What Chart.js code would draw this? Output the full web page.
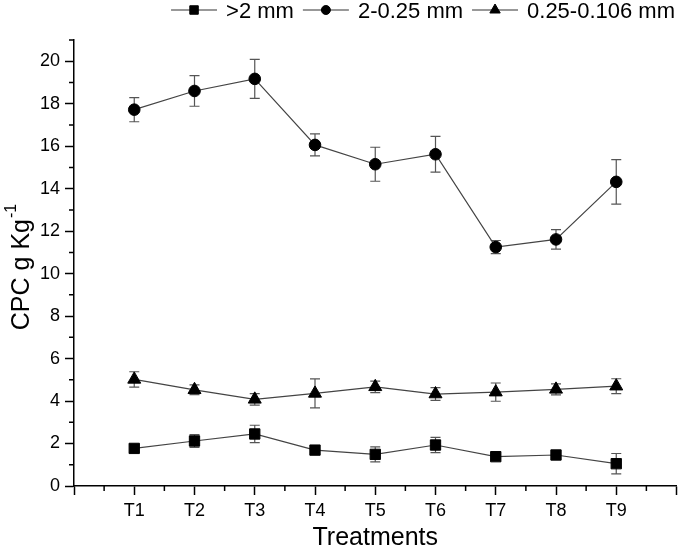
<!DOCTYPE html>
<html><head><meta charset="utf-8">
<script src="https://cdn.jsdelivr.net/npm/chart.js@4.4.1/dist/chart.umd.min.js"></script>
<style>html,body{margin:0;padding:0;background:#fff}canvas{display:block}</style>
</head><body>
<canvas id="c" width="685" height="553"></canvas>
<script>
const categories = ['T1','T2','T3','T4','T5','T6','T7','T8','T9'];
const seriesNames = ['>2 mm','2-0.25 mm','0.25-0.106 mm'];
const coarseMean = [1.77,2.12,2.45,1.69,1.49,1.93,1.38,1.46,1.05];
const coarseErr  = [0.18,0.30,0.41,0.12,0.35,0.36,0.10,0.10,0.48];
const mediumMean = [17.72,18.60,19.17,16.06,15.15,15.62,11.25,11.61,14.32];
const mediumErr  = [0.57,0.72,0.92,0.52,0.80,0.84,0.31,0.46,1.05];
const fineMean   = [5.02,4.53,4.08,4.36,4.67,4.33,4.42,4.55,4.70];
const fineErr    = [0.36,0.23,0.27,0.68,0.27,0.30,0.43,0.26,0.35];
const yTickLabels = [0,2,4,6,8,10,12,14,16,18,20];
const yTitle = 'CPC g Kg';
const yTitleSup = '-1';
const xTitle = 'Treatments';

const FONT = "'Liberation Sans', Arial, sans-serif";
const toPts = arr => arr.map((v,i)=>({x:i+1,y:v}));

function mkDs(label, mean, err, style, radius, legendRadius){
  return {label, data: toPts(mean), errors: err, legendRadius, borderColor:'#444', borderWidth:1.2,
    pointStyle: style, pointRadius: radius, pointHoverRadius: radius,
    pointBackgroundColor:'#000', pointBorderColor:'#000', pointBorderWidth:1, tension:0, fill:false};
}

const errorBars = {
  id:'errorBars',
  beforeDatasetsDraw(chart){
    const {ctx, scales:{x,y}} = chart;
    ctx.save(); ctx.strokeStyle='#555'; ctx.lineWidth=1.2;
    chart.data.datasets.forEach(ds=>{
      ds.data.forEach((p,i)=>{
        const e = ds.errors[i];
        const px = x.getPixelForValue(p.x);
        const t = y.getPixelForValue(p.y+e), b = y.getPixelForValue(p.y-e);
        ctx.beginPath();
        ctx.moveTo(px,t); ctx.lineTo(px,b);
        ctx.moveTo(px-5,t); ctx.lineTo(px+5,t);
        ctx.moveTo(px-5,b); ctx.lineTo(px+5,b);
        ctx.stroke();
      });
    });
    ctx.restore();
  }
};

const extras = {
  id:'extras',
  afterDraw(chart){
    const {ctx, scales:{x,y}, chartArea:ca} = chart;
    ctx.save();
    ctx.strokeStyle='#000'; ctx.lineWidth=1.5;
    // minor ticks
    ctx.beginPath();
    for(let v=0.5; v<10; v+=1){ const px=x.getPixelForValue(v); ctx.moveTo(px,ca.bottom); ctx.lineTo(px,ca.bottom+5); }
    for(let v=1; v<=21; v+=2){ const py=y.getPixelForValue(v); ctx.moveTo(ca.left,py); ctx.lineTo(ca.left-5,py); }
    ctx.stroke();
    // y title
    ctx.fillStyle='#000';
    ctx.translate(22, (ca.top+ca.bottom)/2 + 4);
    ctx.rotate(-Math.PI/2);
    ctx.font = '25px ' + FONT;
    const w1 = ctx.measureText(yTitle).width;
    ctx.font = '16px ' + FONT;
    const w2 = ctx.measureText(yTitleSup).width;
    const start = -(w1+w2+1)/2;
    ctx.textBaseline='middle'; ctx.textAlign='left';
    ctx.font = '25px ' + FONT;
    ctx.fillText(yTitle, start, 0);
    ctx.font = '16px ' + FONT;
    ctx.fillText(yTitleSup, start+w1+1, -10);
    ctx.restore();

    // legend
    ctx.save();
    ctx.font = '22px ' + FONT;
    ctx.textBaseline='middle'; ctx.textAlign='left';
    const lineLen=46, gap1=9, gap2=9, ly=10;
    const items = chart.data.datasets.map(ds=>({ds, w: ctx.measureText(ds.label).width}));
    let total = items.reduce((s,it)=>s+lineLen+gap1+it.w,0) + gap2*(items.length-1);
    let cx = 675 - total;
    items.forEach(it=>{
      ctx.strokeStyle='#333'; ctx.lineWidth=1.2;
      ctx.beginPath(); ctx.moveTo(cx,ly); ctx.lineTo(cx+lineLen,ly); ctx.stroke();
      ctx.fillStyle='#000'; ctx.strokeStyle='#000'; ctx.lineWidth=1;
      Chart.helpers.drawPoint(ctx, {pointStyle: it.ds.pointStyle, radius: it.ds.legendRadius, borderWidth:1}, cx+lineLen/2, ly);
      ctx.fillStyle='#000';
      ctx.fillText(it.ds.label, cx+lineLen+gap1, ly+2);
      cx += lineLen+gap1+it.w+gap2;
    });
    ctx.restore();
  }
};

new Chart(document.getElementById('c'), {
  type:'line',
  data:{ datasets:[
    mkDs(seriesNames[0], coarseMean, coarseErr, 'rect', 7.3, 6),
    mkDs(seriesNames[1], mediumMean, mediumErr, 'circle', 5.8, 4.5),
    mkDs(seriesNames[2], fineMean, fineErr, 'triangle', 7.5, 6)
  ]},
  options:{
    responsive:false, animation:false, devicePixelRatio:1,
    layout:{padding:{top:40,right:2,left:0,bottom:0}},
    plugins:{legend:{display:false}, tooltip:{enabled:false}, title:{display:false}},
    scales:{
      x:{type:'linear', min:0, max:10,
        afterFit: s=>{ s.height = 553-486; },
        afterBuildTicks: s=>{ s.ticks = [0,1,2,3,4,5,6,7,8,9,10].map(v=>({value:v})); },
        ticks:{ autoSkip:false, maxRotation:0, padding:5, color:'#000', font:{family:FONT,size:18},
          callback: v => (v>=1 && v<=categories.length) ? categories[v-1] : '' },
        grid:{ drawOnChartArea:false, drawTicks:true, tickLength:9, tickColor:'#000', tickWidth:1.5 },
        border:{ display:true, color:'#000', width:1.5 },
        title:{ display:true, text:xTitle, color:'#000', font:{family:FONT,size:25}, padding:{top:0,bottom:0} }
      },
      y:{ min:0, max:21,
        afterFit: s=>{ s.width = 74; },
        afterBuildTicks: s=>{ s.ticks = yTickLabels.map(v=>({value:v})); },
        ticks:{ autoSkip:false, padding:5, color:'#000', font:{family:FONT,size:18} },
        grid:{ drawOnChartArea:false, drawTicks:true, tickLength:9, tickColor:'#000', tickWidth:1.5 },
        border:{ display:true, color:'#000', width:1.5 }
      }
    }
  },
  plugins:[errorBars, extras]
});
</script>
</body></html>
